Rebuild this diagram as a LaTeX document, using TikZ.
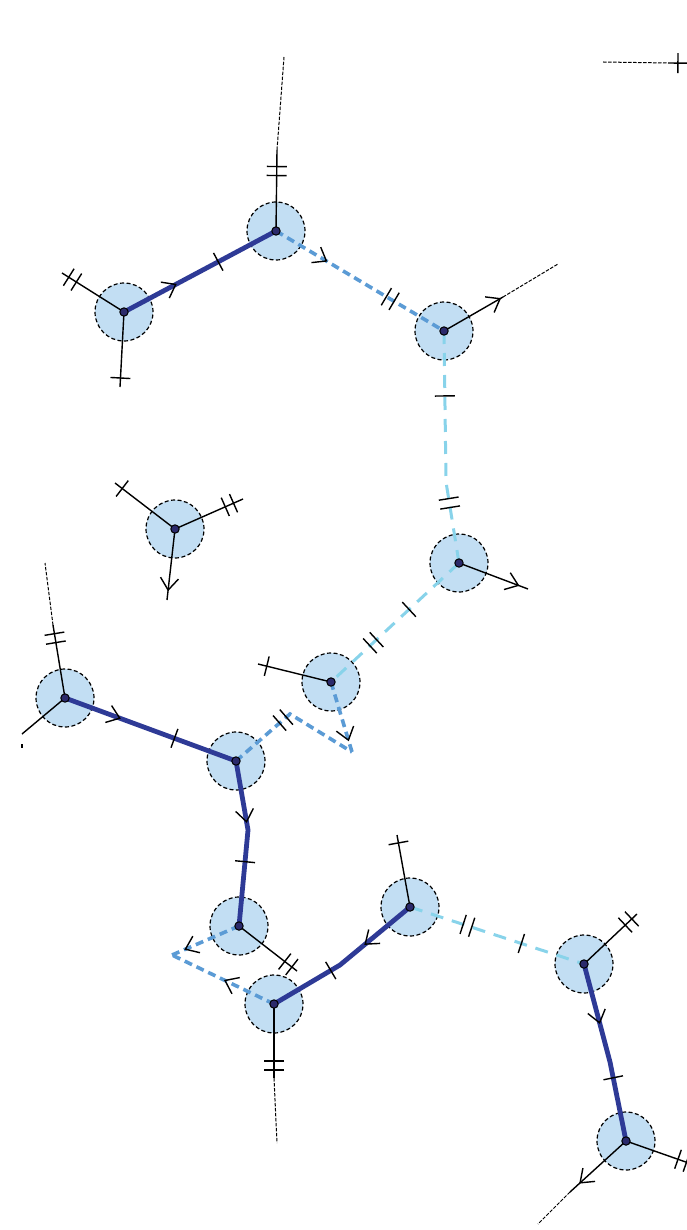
\documentclass[tikz,border=0pt]{standalone}
\definecolor{cfill}{HTML}{C2DEF3}
\definecolor{dkblue}{HTML}{2E3A96}
\definecolor{mdblue}{HTML}{5B9BD5}
\definecolor{ltblue}{HTML}{88D3EA}
\definecolor{dotc}{HTML}{2B2A6B}
\tikzset{
 vtx/.style={circle, minimum size=58pt, inner sep=0pt, fill=cfill, draw=black, line width=1.2pt, dash pattern=on 4pt off 2.5pt},
 thk/.style={draw=dkblue, line width=4.8pt, line join=round},
 mdd/.style={draw=mdblue, line width=3.6pt, dash pattern=on 8pt off 5pt},
 ltd/.style={draw=ltblue, line width=3pt, dash pattern=on 13pt off 9pt},
 stub/.style={draw=black, line width=1.4pt},
 fine/.style={draw=black, line width=1pt, dash pattern=on 3.5pt off 1.5pt},
 tka/.pic={\draw[black, solid, line width=1.4pt] (0,-10)--(0,10);},
 tkb/.pic={\draw[black, solid, line width=1.4pt] (-4.5,-10)--(-4.5,10) (4.5,-10)--(4.5,10);},
 arr/.pic={\draw[black, solid, line width=1.4pt, line join=miter] (-12,-9)--(0,0)--(-12,9);},
}
\begin{document}
\begin{tikzpicture}[x=1pt,y=-1pt, allow upside down]
\useasboundingbox (0,0) rectangle (687,1230);
\clip (0,0) rectangle (687,1230);
% vertices
\node[vtx] (A) at (124,312) {};
\node[vtx] (B) at (276,231) {};
\node[vtx] (C) at (444,331) {};
\node[vtx] (D) at (459,563) {};
\node[vtx] (E) at (175,529) {};
\node[vtx] (F) at (331,682) {};
\node[vtx] (G) at (65,698) {};
\node[vtx] (H) at (236,761) {};
\node[vtx] (I) at (239,926) {};
\node[vtx] (J) at (274,1004) {};
\node[vtx] (K) at (410,907) {};
\node[vtx] (L) at (584,964) {};
\node[vtx] (M) at (626,1141) {};
% auxiliary points
\coordinate (p1) at (352,752);
\coordinate (q1) at (290,714);
\coordinate (p2) at (172,955);
\coordinate (cd) at (446,482);
\coordinate (hi) at (248,830);
\coordinate (jk) at (340,965);
\coordinate (lm) at (610,1062);
% stub ends
\coordinate (a1) at (62,273);
\coordinate (a2) at (120,387);
\coordinate (b1) at (277,150);
\coordinate (b2) at (284,57);
\coordinate (c1) at (503,297);
\coordinate (c2) at (558,264);
\coordinate (d1) at (528,589);
\coordinate (e1) at (115,483);
\coordinate (e2) at (243,499);
\coordinate (e3) at (167,600);
\coordinate (f1) at (258,664);
\coordinate (g1) at (53,625);
\coordinate (g2) at (45,563);
\coordinate (g3) at (22,734);
\coordinate (g4) at (22,744);
\coordinate (g5) at (22,748);
\coordinate (i1) at (297,971);
\coordinate (j1) at (274,1078);
\coordinate (j2) at (277,1143);
\coordinate (k1) at (397,835);
\coordinate (l1) at (637,914);
\coordinate (m1) at (700,1167);
\coordinate (m2) at (570,1192);
\coordinate (m3) at (538,1224);
\coordinate (t1) at (603,62);
\coordinate (t2) at (668,63);
\coordinate (t3) at (700,63.3);
% coloured edges
\draw[thk] (A.center) -- (B.center);
\draw[thk] (G.center) -- (H.center);
\draw[thk] (H.center) -- (hi) -- (I.center);
\draw[thk] (K.center) -- (jk) -- (J.center);
\draw[thk] (L.center) -- (lm) -- (M.center);
\draw[mdd] (B.center) -- (C.center);
\draw[mdd] (F.center) -- (p1);
\draw[mdd] (H.center) -- (q1) -- (p1);
\draw[mdd] (I.center) -- (p2);
\draw[mdd] (J.center) -- (p2);
\draw[ltd] (C.center) -- (cd) -- (D.center);
\draw[ltd] (D.center) -- (F.center);
\draw[ltd] (K.center) -- (L.center);
% marks on coloured edges
\path (A.center) -- pic[pos=.34,sloped]{arr} pic[pos=.62,sloped]{tka} (B.center);
\path (G.center) -- pic[pos=.32,sloped]{arr} pic[pos=.64,sloped]{tka} (H.center);
\path (H.center) -- pic[pos=.88,sloped]{arr} (hi) -- pic[pos=.33,sloped]{tka} (I.center);
\path (K.center) -- pic[pos=.64,sloped]{arr} (jk) -- pic[pos=.14,sloped]{tka} (J.center);
\path (L.center) -- pic[pos=.6,sloped]{arr} (lm) -- pic[pos=.2,sloped]{tka} (M.center);
\path (B.center) -- pic[pos=.30,sloped]{arr} pic[pos=.68,sloped]{tkb} (C.center);
\path (F.center) -- pic[pos=.83,sloped]{arr} (p1);
\path (H.center) -- pic[pos=.87,sloped]{tkb} (q1);
\path (I.center) -- pic[pos=.8,sloped]{arr} (p2);
\path (J.center) -- pic[pos=.48,sloped]{arr} (p2);
\path (C.center) -- pic[pos=.43,sloped]{tka} (cd) -- pic[pos=.26,sloped]{tkb} (D.center);
\path (D.center) -- pic[pos=.39,sloped]{tka} pic[pos=.67,sloped]{tkb} (F.center);
\path (K.center) -- pic[pos=.33,sloped]{tkb} pic[pos=.64,sloped]{tka} (L.center);
% stubs
\draw[stub] (A.center) -- pic[pos=.83,sloped]{tkb} (a1);
\draw[stub] (A.center) -- pic[pos=.88,sloped]{tka} (a2);
\draw[stub] (B.center) -- pic[pos=.74,sloped]{tkb} (b1);
\draw[fine] (b1) -- (b2);
\draw[stub] (C.center) -- pic[pos=.95,sloped]{arr} (c1);
\draw[fine] (c1) -- (c2);
\draw[stub] (D.center) -- pic[pos=.86,sloped]{arr} (d1);
\draw[stub] (E.center) -- pic[pos=.88,sloped]{tka} (e1);
\draw[stub] (E.center) -- pic[pos=.8,sloped]{tkb} (e2);
\draw[stub] (E.center) -- pic[pos=.86,sloped]{arr} (e3);
\draw[stub] (F.center) -- pic[pos=.88,sloped]{tka} (f1);
\draw[stub] (G.center) -- pic[pos=.82,sloped]{tkb} (g1);
\draw[fine] (g1) -- (g2);
\draw[stub] (G.center) -- (g3);
\draw[stub] (g4) -- (g5);
\draw[stub] (I.center) -- pic[pos=.85,sloped]{tkb} (i1);
\draw[stub] (J.center) -- pic[pos=.83,sloped]{tkb} (j1);
\draw[fine] (j1) -- (j2);
\draw[stub] (K.center) -- pic[pos=.89,sloped]{tka} (k1);
\draw[stub] (L.center) -- pic[pos=.84,sloped]{tkb} (l1);
\draw[stub] (M.center) -- pic[pos=.76,sloped]{tkb} (m1);
\draw[stub] (M.center) -- pic[pos=.82,sloped]{arr} (m2);
\draw[fine] (m2) -- (m3);
\draw[fine] (t1) -- (t2);
\draw[stub] (t2) -- pic[pos=.31,sloped]{tka} (t3);
% centre dots
\foreach \v in {A,B,C,D,E,F,G,H,I,J,K,L,M}
  \filldraw[fill=dotc, draw=black, line width=1pt] (\v.center) circle (4.2pt);
\end{tikzpicture}
\end{document}
